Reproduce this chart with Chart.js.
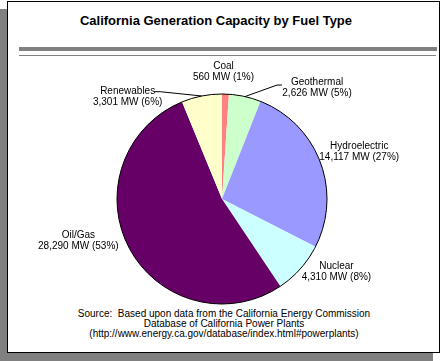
<!DOCTYPE html>
<html>
<head>
<meta charset="utf-8">
<script src="https://cdn.jsdelivr.net/npm/chart.js@4"></script>
<style>
   html, body { margin: 0; padding: 0; background: #fff; }
   #stage { position: relative; width: 441px; height: 361px; overflow: hidden; font-family: Arial, "Liberation Sans", sans-serif; }
   #shadow { position: absolute; left: 0; top: 9px; width: 433px; height: 352px; background: #808080; }
   #box { position: absolute; left: 7px; top: 1px; width: 433px; height: 352px; box-sizing: border-box; background: #fff; border: 1px solid #000; }
   #title { position: absolute; left: 0; width: 432px; top: 13px; text-align: center; font-weight: bold; font-size: 13px; color: #000; }
   #rule-thick { position: absolute; left: 19px; top: 47px; width: 418px; height: 4px; background: #808080; }
   #rule-thin { position: absolute; left: 19px; top: 55px; width: 417px; height: 1px; background: #808080; }
   #source { position: absolute; left: 0; width: 448px; top: 309px; text-align: center; font-size: 10px; line-height: 10px; color: #000; }
   #pie { position: absolute; left: 0; top: 0; }
</style>
</head>
<body>
<div id="stage">
   <div id="shadow"></div>
   <div id="box"></div>
   <div id="title">California Generation Capacity by Fuel Type</div>
   <div id="rule-thick"></div>
   <div id="rule-thin"></div>
   <div id="source">
      Source:&nbsp; Based upon data from the California Energy Commission<br>
      Database of California Power Plants<br>
      (http://www.energy.ca.gov/database/index.html#powerplants)
   </div>
   <canvas id="pie" width="441" height="361"></canvas>
</div>
<script>
// data
const fuelTypes = ["Coal", "Geothermal", "Hydroelectric", "Nuclear", "Oil/Gas", "Renewables"];
const capacityMW = [560, 2626, 14117, 4310, 28290, 3301];
const sliceColors = ["#FF8080", "#CCFFCC", "#9999FF", "#CCFFFF", "#660066", "#FFFFCC"];

// label placement: text centre offset from the slice's outer mid point
const labelOffsets = [[-2, -22], [72, -9], [39, -10], [36, 3], [-51, -8], [-74, 1]];
// leader lines (elbow and end, relative to the text centre), null = none
const leaders = [null, { elbow: [-40, -2.5], end: [-35, -2.5] }, null, null, null, { elbow: [32.5, -5.3], end: [26.5, -5.3] }];

const total = capacityMW.reduce((a, b) => a + b, 0);

const sliceLabels = {
   id: "sliceLabels",
   afterDatasetsDraw(chart) {
      const ctx = chart.ctx;
      const meta = chart.getDatasetMeta(0);
      const first = meta.data[0];
      ctx.save();
      // outer circle outline
      ctx.beginPath();
      ctx.arc(first.x, first.y, first.outerRadius, 0, Math.PI * 2);
      ctx.strokeStyle = "#000";
      ctx.lineWidth = 1;
      ctx.stroke();

      ctx.font = "10px Arial, 'Liberation Sans', sans-serif";
      ctx.fillStyle = "#000";
      ctx.textAlign = "center";
      ctx.textBaseline = "middle";
      meta.data.forEach((arc, i) => {
         const mid = (arc.startAngle + arc.endAngle) / 2;
         const ex = arc.x + Math.cos(mid) * arc.outerRadius;
         const ey = arc.y + Math.sin(mid) * arc.outerRadius;
         const tx = ex + labelOffsets[i][0];
         const ty = ey + labelOffsets[i][1];
         const v = capacityMW[i];
         const pct = Math.round(v / total * 100);
         ctx.fillText(fuelTypes[i], tx, ty - 5.5);
         ctx.fillText(`${v.toLocaleString("en-US")} MW (${pct}%)`, tx, ty + 5.5);
         const ld = leaders[i];
         if (ld) {
            ctx.beginPath();
            ctx.moveTo(ex, ey);
            ctx.lineTo(tx + ld.elbow[0], ty + ld.elbow[1]);
            ctx.lineTo(tx + ld.end[0], ty + ld.end[1]);
            ctx.stroke();
         }
      });
      ctx.restore();
   },
};

new Chart(document.getElementById("pie").getContext("2d"), {
   type: "pie",
   data: {
      labels: fuelTypes,
      datasets: [{
         data: capacityMW,
         backgroundColor: sliceColors,
         borderWidth: 0,
      }],
   },
   options: {
      responsive: false,
      animation: false,
      layout: { padding: { left: 117, right: 114, top: 94, bottom: 57 } },
      plugins: { legend: { display: false }, tooltip: { enabled: false } },
   },
   plugins: [sliceLabels],
});
</script>
</body>
</html>
